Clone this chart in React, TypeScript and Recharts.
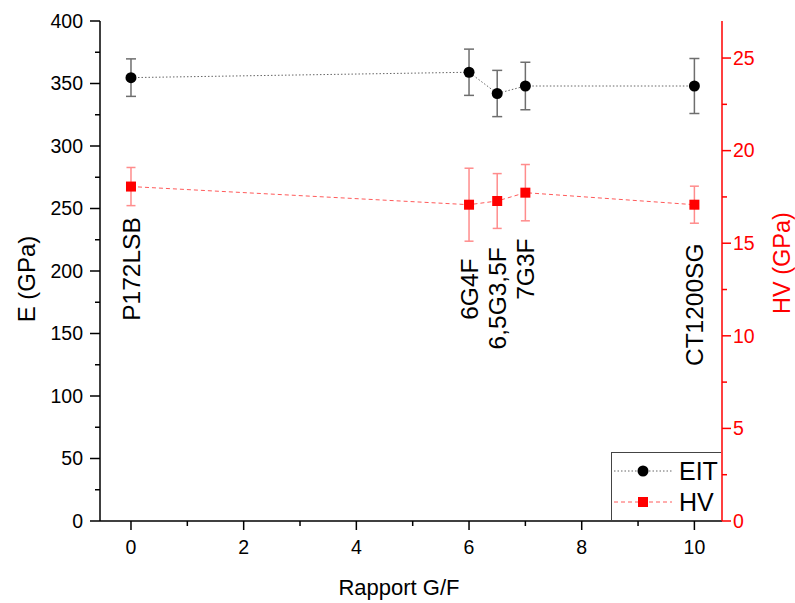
import React from 'react';
import { ComposedChart, Line, XAxis, YAxis, ErrorBar, LabelList, Label } from 'recharts';

// G/F ratio of each sample
const ratio = [0, 6, 6.5, 7, 10];
const sampleNames = ['P172LSB', '6G4F', '6,5G3,5F', '7G3F', 'CT1200SG'];
// E value (GPa, left axis) where each rotated sample name ends
const nameTop = [243, 210, 219, 226, 222];

const eit = [354.7, 359, 342, 348, 348];
const eitErr = [15, 18.5, 18.5, 19, 22];
const hv = [18.06, 17.08, 17.28, 17.73, 17.08];
const hvErr = [1.03, 1.97, 1.48, 1.52, 1.0];

const seriesNames = ['EIT', 'HV'];

const xTicks = [0, 1, 2, 3, 4, 5, 6, 7, 8, 9, 10];
const eTicks = [0, 25, 50, 75, 100, 125, 150, 175, 200, 225, 250, 275, 300, 325, 350, 375, 400];
const hvTicks = [0, 2.5, 5, 7.5, 10, 12.5, 15, 17.5, 20, 22.5, 25];

const FONT = '"Liberation Sans", Arial, sans-serif';
const RED = '#ff0000';

const data = ratio.map((g, i) => ({
  g,
  name: sampleNames[i],
  nameTop: nameTop[i],
  eit: eit[i],
  eitErr: eitErr[i],
  hv: hv[i],
  hvErr: hvErr[i],
}));

const BottomTick = (props: any) => {
  const { x, y, payload } = props;
  const major = payload.value % 2 === 0;
  return (
    <g>
      <line x1={x} y1={y} x2={x} y2={y + (major ? 9 : 5)} stroke="#000" strokeWidth={1.5} />
      {major && (
        <text x={x} y={y + 33} textAnchor="middle" fontSize={19.5} fontFamily={FONT} fill="#000">
          {payload.value}
        </text>
      )}
    </g>
  );
};

const TopTick = (props: any) => {
  const { x, y, payload } = props;
  const major = payload.value % 2 === 0;
  return <line x1={x} y1={y} x2={x} y2={y + (major ? 9 : 5)} stroke="#000" strokeWidth={1.5} />;
};

const LeftTick = (props: any) => {
  const { x, y, payload } = props;
  const major = payload.value % 50 === 0;
  return (
    <g>
      <line x1={x - (major ? 10 : 5)} y1={y} x2={x} y2={y} stroke="#000" strokeWidth={1.5} />
      {major && (
        <text x={x - 17} y={y} dy="0.35em" textAnchor="end" fontSize={19.5} fontFamily={FONT} fill="#000">
          {payload.value}
        </text>
      )}
    </g>
  );
};

const RightTick = (props: any) => {
  const { x, y, payload } = props;
  const major = payload.value % 5 === 0;
  return (
    <g>
      <line x1={x} y1={y} x2={x + (major ? 9 : 5)} y2={y} stroke={RED} strokeWidth={1.5} />
      {major && (
        <text x={x + 11} y={y} dy="0.35em" textAnchor="start" fontSize={19.5} fontFamily={FONT} fill={RED}>
          {payload.value}
        </text>
      )}
    </g>
  );
};

const SampleName = (props: any) => {
  const vb = props.viewBox || {};
  const x = props.x ?? vb.x;
  const y = props.y ?? vb.y;
  if (x == null || y == null) return null;
  return (
    <text
      x={x}
      y={y}
      dy="0.35em"
      transform={`rotate(-90, ${x}, ${y})`}
      textAnchor="end"
      fontSize={24.5}
      fontFamily={FONT}
      fill="#000"
    >
      {props.value}
    </text>
  );
};

const CircleDot = (props: any) => {
  const { cx, cy } = props;
  if (cx == null || cy == null) return null;
  return <circle cx={cx} cy={cy} r={5.5} fill="#000" />;
};

const SquareDot = (props: any) => {
  const { cx, cy } = props;
  if (cx == null || cy == null) return null;
  return <rect x={cx - 5} y={cy - 5} width={10} height={10} fill={RED} />;
};

export default function App() {
  return (
    <div style={{ position: 'relative', width: 795, height: 603, background: '#fff' }}>
      <style>{`body{margin:0;}`}</style>
      <ComposedChart
        width={795}
        height={603}
        data={data}
        margin={{ top: 21, right: 0, left: 0, bottom: 0 }}
      >
        <XAxis
          xAxisId="bottom"
          dataKey="g"
          type="number"
          domain={[-0.55, 10.49]}
          allowDataOverflow
          ticks={xTicks}
          interval={0}
          height={82}
          tickSize={0}
          tickMargin={0}
          tick={<BottomTick />}
          axisLine={{ stroke: '#000', strokeWidth: 1.5 }}
        >
          <Label
            content={(p: any) => {
              const vb = p.viewBox;
              return (
                <text
                  x={vb.x + vb.width / 2 - 12}
                  y={vb.y + 74}
                  textAnchor="middle"
                  fontSize={22}
                  fontFamily={FONT}
                  fill="#000"
                >
                  Rapport G/F
                </text>
              );
            }}
          />
        </XAxis>
        <XAxis
          xAxisId="top"
          orientation="top"
          dataKey="g"
          type="number"
          domain={[-0.55, 10.49]}
          allowDataOverflow
          ticks={xTicks}
          interval={0}
          height={0}
          tickSize={0}
          tickMargin={0}
          tick={<TopTick />}
          axisLine={{ stroke: '#000', strokeWidth: 1.5 }}
        />
        <YAxis
          yAxisId="left"
          orientation="left"
          type="number"
          domain={[0, 400]}
          allowDataOverflow
          ticks={eTicks}
          interval={0}
          width={100}
          tickSize={0}
          tickMargin={0}
          tick={<LeftTick />}
          axisLine={{ stroke: '#000', strokeWidth: 1.5 }}
        >
          <Label
            content={(p: any) => {
              const vb = p.viewBox;
              const cx = vb.x + 27;
              const cy = vb.y + 258;
              return (
                <text
                  x={cx}
                  y={cy}
                  dy="0.35em"
                  transform={`rotate(-90, ${cx}, ${cy})`}
                  textAnchor="middle"
                  fontSize={24}
                  fontFamily={FONT}
                  fill="#000"
                >
                  E (GPa)
                </text>
              );
            }}
          />
        </YAxis>
        <YAxis
          yAxisId="right"
          orientation="right"
          type="number"
          domain={[0, 27]}
          allowDataOverflow
          ticks={hvTicks}
          interval={0}
          width={73}
          tickSize={0}
          tickMargin={0}
          tick={<RightTick />}
          axisLine={{ stroke: RED, strokeWidth: 1.5 }}
        >
          <Label
            content={(p: any) => {
              const vb = p.viewBox;
              const cx = vb.x + 60;
              const cy = vb.y + 242;
              return (
                <text
                  x={cx}
                  y={cy}
                  dy="0.35em"
                  transform={`rotate(-90, ${cx}, ${cy})`}
                  textAnchor="middle"
                  fontSize={23.5}
                  fontFamily={FONT}
                  fill={RED}
                >
                  HV (GPa)
                </text>
              );
            }}
          />
        </YAxis>

        <Line
          xAxisId="bottom"
          yAxisId="left"
          dataKey="nameTop"
          stroke="none"
          dot={false}
          activeDot={false}
          isAnimationActive={false}
          legendType="none"
        >
          <LabelList dataKey="name" content={<SampleName />} />
        </Line>

        <Line
          xAxisId="bottom"
          yAxisId="right"
          dataKey="hv"
          name={seriesNames[1]}
          type="linear"
          stroke="#ff5a5a"
          strokeWidth={1}
          strokeDasharray="4 3"
          dot={<SquareDot />}
          activeDot={false}
          isAnimationActive={false}
        >
          <ErrorBar dataKey="hvErr" direction="y" width={4.5} stroke="#ff8c8c" strokeWidth={1.5} />
        </Line>

        <Line
          xAxisId="bottom"
          yAxisId="left"
          dataKey="eit"
          name={seriesNames[0]}
          type="linear"
          stroke="#666"
          strokeWidth={1}
          strokeDasharray="1.5 2"
          dot={<CircleDot />}
          activeDot={false}
          isAnimationActive={false}
        >
          <ErrorBar dataKey="eitErr" direction="y" width={5} stroke="#6e6e6e" strokeWidth={1.5} />
        </Line>
      </ComposedChart>

      <div
        style={{
          position: 'absolute',
          left: 611,
          top: 452,
          width: 110,
          height: 68,
          borderTop: '1px solid #444',
          borderLeft: '1px solid #444',
          boxSizing: 'border-box',
        }}
      >
        <svg width={110} height={68} style={{ display: 'block', overflow: 'visible' }}>
          <line x1={2} y1={18} x2={60} y2={18} stroke="#666" strokeWidth={1} strokeDasharray="1.5 2" />
          <circle cx={31} cy={18} r={5.5} fill="#000" />
          <text x={67} y={18} dy="0.36em" fontSize={25} fontFamily={FONT} fill="#000">
            {seriesNames[0]}
          </text>
          <line x1={2} y1={49} x2={60} y2={49} stroke="#ff5a5a" strokeWidth={1} strokeDasharray="4 3" />
          <rect x={26} y={44} width={10} height={10} fill={RED} />
          <text x={67} y={49} dy="0.36em" fontSize={25} fontFamily={FONT} fill="#000">
            {seriesNames[1]}
          </text>
        </svg>
      </div>
    </div>
  );
}
